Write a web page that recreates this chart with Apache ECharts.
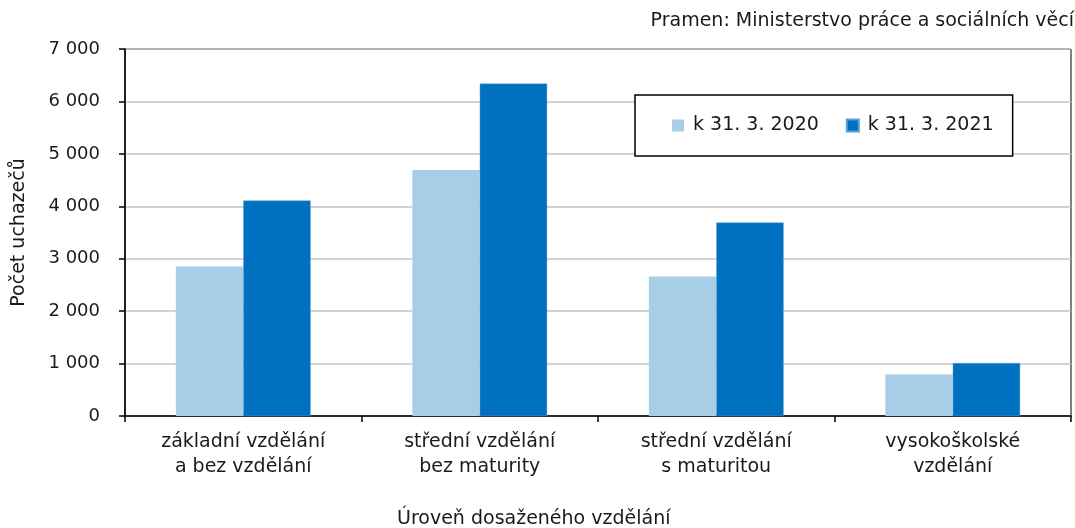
<!DOCTYPE html>
<html><head><meta charset="utf-8">
<script src="https://cdn.jsdelivr.net/npm/echarts@6/dist/echarts.min.js"></script>
<style>html,body{margin:0;padding:0;background:#fff}#c{width:1075px;height:528px}</style>
</head><body><div id="c"></div>
<script>
const categories = ['základní vzdělání\na bez vzdělání', 'střední vzdělání\nbez maturity', 'střední vzdělání\ns maturitou', 'vysokoškolské\nvzdělání'];
const series2020 = [2850, 4690, 2660, 790];
const series2021 = [4110, 6340, 3690, 1010];
const seriesNames = ['k 31. 3. 2020', 'k 31. 3. 2021'];
const yTicks = [0, 1000, 2000, 3000, 4000, 5000, 6000, 7000];

const FONT = '"DejaVu Sans", "Liberation Sans", Arial, sans-serif';
const chart = echarts.init(document.getElementById('c'));
chart.setOption({
  animation: false,
  backgroundColor: '#fff',
  textStyle: { fontFamily: FONT },
  grid: { left: 125, right: 4, top: 49, bottom: 112, show: true, borderColor: '#000', borderWidth: 1,
          containLabel: false, outerBoundsMode: 'none' },
  title: {
    text: 'Pramen: Ministerstvo práce a sociálních věcí',
    right: 1, top: 12, padding: 0,
    textStyle: { fontFamily: FONT, fontSize: 19, fontWeight: 'normal', color: '#1a1a1a' }
  },
  legend: {
    data: seriesNames,
    left: 635, top: 95,
    padding: [21, 19, 21, 37],
    itemGap: 27,
    itemWidth: 12, itemHeight: 12,
    icon: 'rect',
    borderColor: '#000', borderWidth: 1.5,
    backgroundColor: '#fff',
    textStyle: { fontFamily: FONT, fontSize: 19, color: '#1a1a1a', padding: [0, 0, 0, 4] }
  },
  xAxis: {
    type: 'category',
    data: categories,
    axisLine: { lineStyle: { color: '#000', width: 1.5 } },
    axisTick: { show: true, alignWithLabel: false, length: 6, lineStyle: { color: '#000', width: 1.5 } },
    axisLabel: { fontFamily: FONT, fontSize: 19, color: '#1a1a1a', margin: 14, lineHeight: 25 }
  },
  yAxis: {
    type: 'value',
    min: yTicks[0], max: yTicks[yTicks.length - 1], interval: 1000,
    name: 'Počet uchazečů',
    nameLocation: 'middle', nameGap: 96, nameRotate: 90,
    nameTextStyle: { fontFamily: FONT, fontSize: 19, color: '#1a1a1a' },
    axisLine: { show: true, lineStyle: { color: '#000', width: 1.5 } },
    axisTick: { show: true, length: 6, lineStyle: { color: '#000', width: 1.5 } },
    splitLine: { lineStyle: { color: '#c4c4c4', width: 1.5 } },
    axisLabel: {
      fontFamily: FONT, fontSize: 18, color: '#1a1a1a', margin: 25,
      formatter: v => String(v).replace(/\B(?=(\d{3})+(?!\d))/g, ' ')
    }
  },
  graphic: [{
    type: 'text', left: 397, top: 510,
    style: { text: 'Úroveň dosaženého vzdělání', font: '19px ' + FONT, fill: '#1a1a1a' }
  }],
  series: [
    { name: seriesNames[0], type: 'bar', data: series2020, barGap: '0%', barCategoryGap: '43%',
      itemStyle: { color: '#a8cde7' } },
    { name: seriesNames[1], type: 'bar', data: series2021, barGap: '0%', barCategoryGap: '43%',
      itemStyle: { color: '#0070c0', borderColor: '#5a9fd6', borderWidth: 0.5 } }
  ]
});
</script></body></html>
